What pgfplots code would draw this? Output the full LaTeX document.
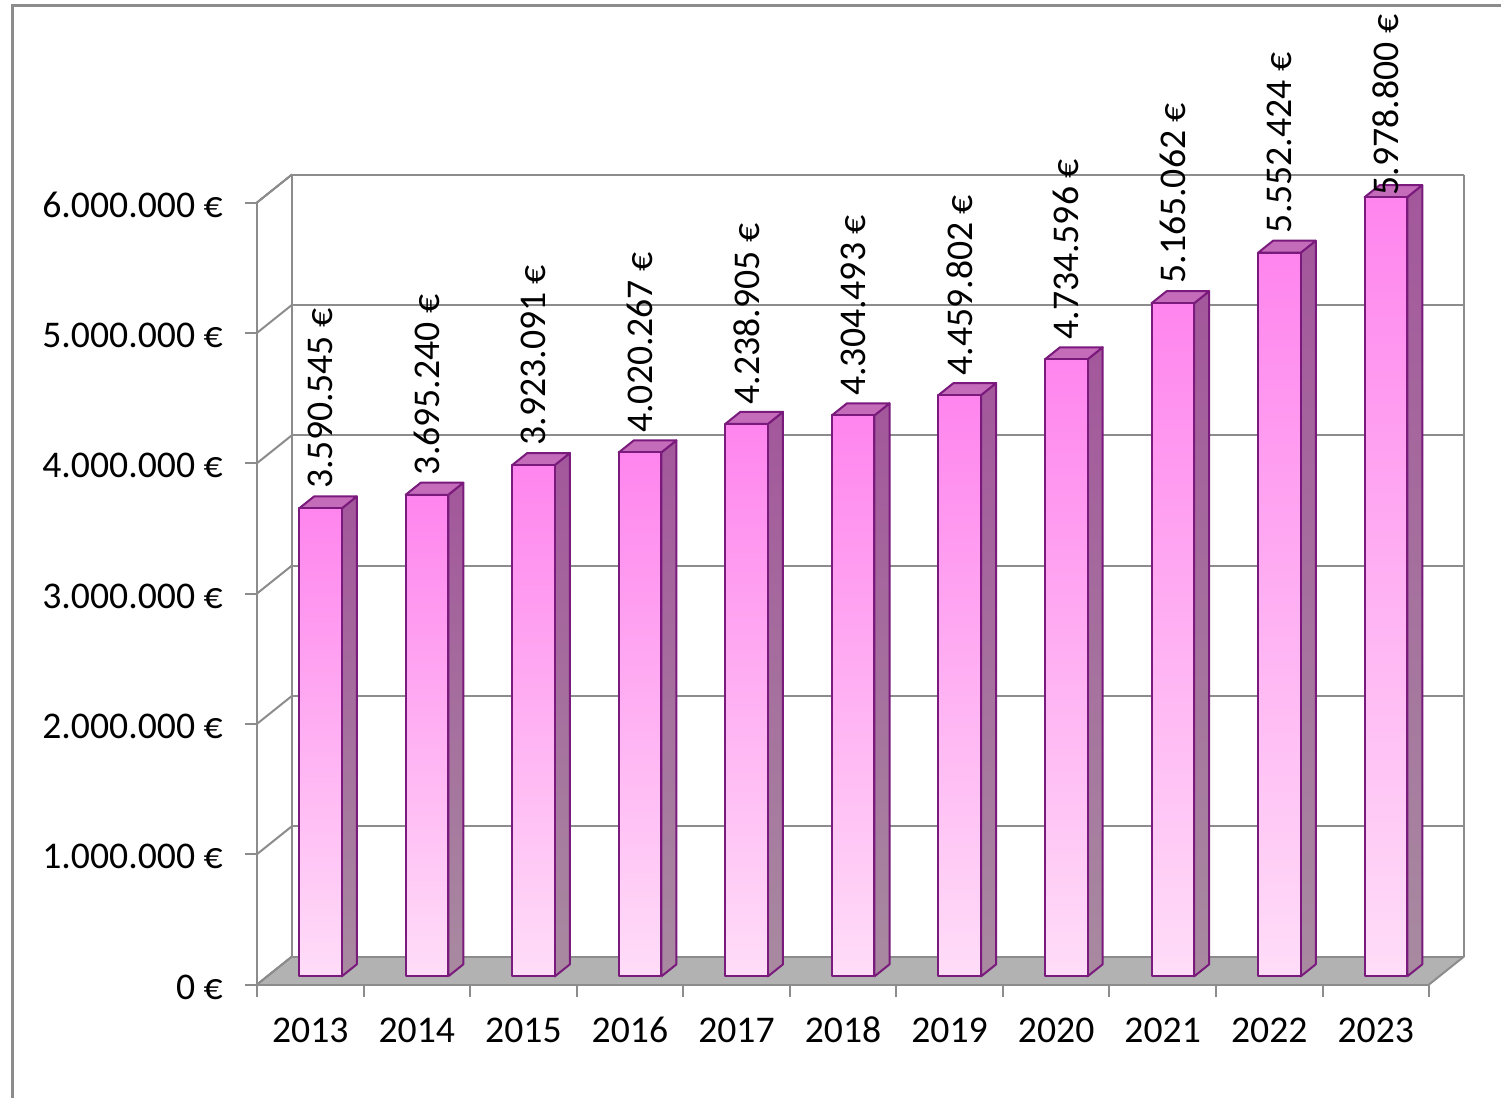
\documentclass[border=0pt]{standalone}
\usepackage{pgfplots}
\pgfplotsset{compat=1.18}
\usepackage{fontspec}
\setmainfont{Carlito}
\definecolor{frontTop}{HTML}{FF85EE}
\definecolor{frontBot}{HTML}{FFDDF8}
\definecolor{sideTop}{HTML}{A3579B}
\definecolor{sideBot}{HTML}{A88AA0}
\definecolor{topFace}{HTML}{C46BBA}
\definecolor{barEdge}{HTML}{7A1A7C}
\definecolor{axGray}{HTML}{8C8C8C}
\definecolor{floorGray}{HTML}{B2B2B2}
\newcommand{\bigfont}{\fontsize{37.7pt}{45pt}\selectfont}
% #1 = category index, #2 = value (millions of euro)
\newcommand{\drawbar}[2]{%
  \pgfmathsetmacro{\xl}{#1+0.3}%
  \pgfmathsetmacro{\xr}{#1+0.7}%
  \addplot3[draw=barEdge, line width=2pt, line join=round, top color=sideTop, bottom color=sideBot]
    coordinates {(\xr,0.29,0) (\xr,0.72,0) (\xr,0.72,#2) (\xr,0.29,#2)} -- cycle;
  \addplot3[draw=barEdge, line width=2pt, line join=round, fill=topFace]
    coordinates {(\xl,0.29,#2) (\xr,0.29,#2) (\xr,0.72,#2) (\xl,0.72,#2)} -- cycle;
  \addplot3[draw=barEdge, line width=2pt, line join=round, top color=frontTop, bottom color=frontBot]
    coordinates {(\xl,0.29,0) (\xr,0.29,0) (\xr,0.29,#2) (\xl,0.29,#2)} -- cycle;
}
\tikzset{zlab/.style={anchor=east, inner sep=0pt, xshift=-34pt, yshift=-2.5pt, font=\bigfont, text=black},
         xlab/.style={anchor=base, inner sep=0pt, yshift=-57.5pt, font=\bigfont, text=black}}
\begin{document}
\begin{tikzpicture}
\draw[axGray, line width=2.5pt] (12.3pt,0pt) -- (12.3pt,1092.5pt) -- (1501pt,1092.5pt);
\begin{axis}[
  set layers,
  anchor=origin, at={(257pt,113.5pt)},
  x={(106.55pt,0pt)}, y={(35pt,28pt)}, z={(0pt,130.33pt)},
  xmin=0, xmax=11, ymin=0, ymax=1, zmin=0, zmax=6,
  clip=false,
  axis line style={axGray, line width=2pt},
  zmajorgrids, grid style={axGray, line width=2pt},
  ytick=\empty,
  xtick={0,...,11}, xticklabels={},
  ztick={0,...,6}, zticklabels={},
  tick style={draw=none},
]
\addplot3[fill=floorGray, draw=none, on layer=axis background]
  coordinates {(0,0,0) (11,0,0) (11,1,0) (0,1,0)} -- cycle;
\drawbar{0}{3.590545}
\drawbar{1}{3.695240}
\drawbar{2}{3.923091}
\drawbar{3}{4.020267}
\drawbar{4}{4.238905}
\drawbar{5}{4.304493}
\drawbar{6}{4.459802}
\drawbar{7}{4.734596}
\drawbar{8}{5.165062}
\drawbar{9}{5.552424}
\drawbar{10}{5.978800}
\addplot3[draw=none, nodes near coords, point meta=explicit symbolic,
  every node near coord/.append style={rotate=90, anchor=west, font=\bigfont, text=black, inner xsep=19.5pt, inner ysep=0pt}]
  coordinates {
  (0.5,0.29,3.590545) [3.590.545 €]
  (1.5,0.29,3.695240) [3.695.240 €]
  (2.5,0.29,3.923091) [3.923.091 €]
  (3.5,0.29,4.020267) [4.020.267 €]
  (4.5,0.29,4.238905) [4.238.905 €]
  (5.5,0.29,4.304493) [4.304.493 €]
  (6.5,0.29,4.459802) [4.459.802 €]
  (7.5,0.29,4.734596) [4.734.596 €]
  (8.5,0.29,5.165062) [5.165.062 €]
  (9.5,0.29,5.552424) [5.552.424 €]
  (10.5,0.29,5.843) [5.978.800 €]
  };
% tick marks
\pgfplotsinvokeforeach{0,...,6}{\draw[axGray, line width=2pt] (axis cs:0,0,#1) -- ++(-12pt,0pt);}
\pgfplotsinvokeforeach{0,...,11}{\draw[axGray, line width=2pt] (axis cs:#1,0,0) -- ++(0pt,-12pt);}
% value axis labels
\node[zlab] at (axis cs:0,0,0) {0 €};
\node[zlab] at (axis cs:0,0,1) {1.000.000 €};
\node[zlab] at (axis cs:0,0,2) {2.000.000 €};
\node[zlab] at (axis cs:0,0,3) {3.000.000 €};
\node[zlab] at (axis cs:0,0,4) {4.000.000 €};
\node[zlab] at (axis cs:0,0,5) {5.000.000 €};
\node[zlab] at (axis cs:0,0,6) {6.000.000 €};
% category labels
\node[xlab] at (axis cs:0.5,0,0) {2013};
\node[xlab] at (axis cs:1.5,0,0) {2014};
\node[xlab] at (axis cs:2.5,0,0) {2015};
\node[xlab] at (axis cs:3.5,0,0) {2016};
\node[xlab] at (axis cs:4.5,0,0) {2017};
\node[xlab] at (axis cs:5.5,0,0) {2018};
\node[xlab] at (axis cs:6.5,0,0) {2019};
\node[xlab] at (axis cs:7.5,0,0) {2020};
\node[xlab] at (axis cs:8.5,0,0) {2021};
\node[xlab] at (axis cs:9.5,0,0) {2022};
\node[xlab] at (axis cs:10.5,0,0) {2023};
\end{axis}
\pgfresetboundingbox
\path[use as bounding box] (0pt,0pt) rectangle (1501pt,1098pt);
\end{tikzpicture}
\end{document}
